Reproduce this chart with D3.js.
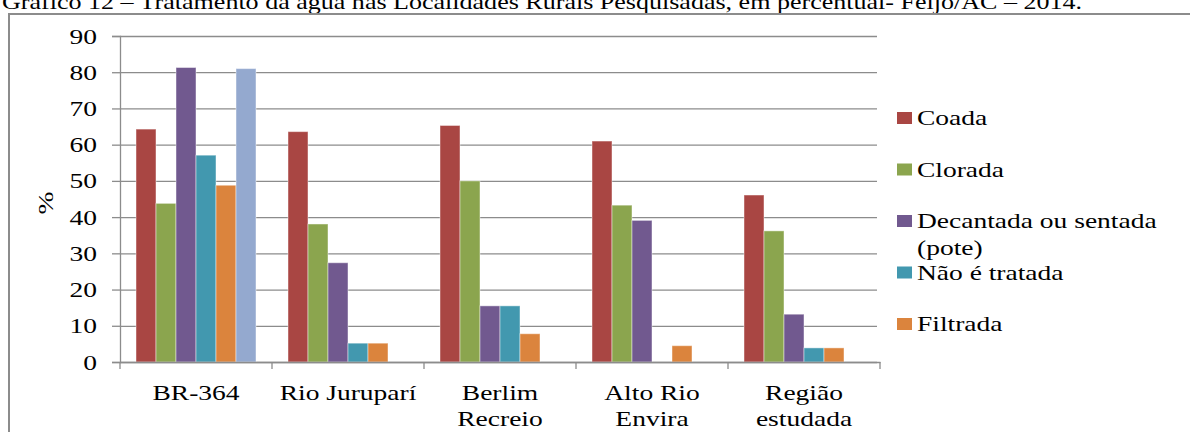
<!DOCTYPE html>
<html>
<head>
<meta charset="utf-8">
<style>
  body { margin: 0; background: #fff; }
  text { font-family: "Liberation Serif", "Times New Roman", serif; fill: #000; }
</style>
</head>
<body>
<div id="chart"></div>
<script src="https://d3js.org/d3.v7.min.js"></script>
<script>
  // data
  const categories = ["BR-364", "Rio Juruparí", "Berlim Recreio", "Alto Rio Envira", "Região estudada"];
  const categoryLines = [["BR-364"], ["Rio Juruparí"], ["Berlim", "Recreio"], ["Alto Rio", "Envira"], ["Região", "estudada"]];
  const seriesNames = ["Coada", "Clorada", "Decantada ou sentada (pote)", "Não é tratada", "Filtrada", ""];
  const coada = [64.3, 63.6, 65.3, 61.0, 46.1];
  const clorada = [43.8, 38.1, 50.0, 43.3, 36.2];
  const decantada = [81.3, 27.4, 15.5, 39.1, 13.2];
  const naoTratada = [57.1, 5.2, 15.5, 0, 3.9];
  const filtrada = [48.8, 5.2, 7.8, 4.5, 3.9];
  const sexta = [81.0, 0, 0, 0, 0];
  const yTicks = [0, 10, 20, 30, 40, 50, 60, 70, 80, 90];
  const colors = ["#A94643", "#8BA54E", "#71598F", "#4298AF", "#DB843D", "#94A9CF"];
  const title = "Gráfico 12 – Tratamento da água nas Localidades Rurais Pesquisadas, em percentual- Feijó/AC – 2014.";

  const seriesValues = [coada, clorada, decantada, naoTratada, filtrada, sexta];
  const series = seriesNames.map((name, i) => ({ name: name, key: "s" + i, color: colors[i], values: seriesValues[i] }));

  const W = 1190, H = 432;
  const plot = { left: 120, right: 880, top: 36, bottom: 362 };
  const sx = 1.25; // text in the source is stretched horizontally

  const svg = d3.select("#chart").append("svg")
    .attr("width", W)
    .attr("height", H);

  // title, cut off by the top of the picture
  svg.append("text")
    .attr("x", 2)
    .attr("y", 9)
    .attr("textLength", 1080)
    .attr("lengthAdjust", "spacingAndGlyphs")
    .style("font-size", "22px")
    .text(title);

  // outer frame
  svg.append("rect")
    .attr("x", 9).attr("y", 14)
    .attr("width", W).attr("height", H)
    .attr("fill", "none")
    .attr("stroke", "#8c8c8c")
    .attr("stroke-width", 2);

  const x0 = d3.scaleBand().domain(categories).range([plot.left, plot.right]);
  const x1 = d3.scaleBand().domain(series.map(d => d.key)).range([16, x0.bandwidth() - 16]);
  const y = d3.scaleLinear().domain([0, 90]).range([plot.bottom, plot.top]);

  // gridlines
  svg.append("g")
    .attr("transform", "translate(" + plot.left + ",0)")
    .call(d3.axisLeft(y).tickValues(yTicks).tickSize(-(plot.right - plot.left - 3)).tickFormat(""))
    .call(g => g.select(".domain").remove())
    .call(g => g.selectAll("line").attr("stroke", "#8c8c8c").attr("stroke-width", 1.3));

  // y axis
  const yAxis = svg.append("g")
    .attr("transform", "translate(" + plot.left + ",0)")
    .call(d3.axisLeft(y).tickValues(yTicks).tickSize(8).tickPadding(0));
  yAxis.select(".domain").attr("stroke", "#8c8c8c").attr("stroke-width", 1.3);
  yAxis.selectAll(".tick line").attr("stroke", "#8c8c8c").attr("stroke-width", 1.3);
  yAxis.selectAll(".tick text")
    .attr("x", -23 / sx)
    .attr("transform", "scale(" + sx + ",1)")
    .style("font-size", "22px")
    .style("font-family", "Liberation Serif");

  // bars
  const groups = svg.append("g").selectAll("g")
    .data(categories)
    .join("g")
    .attr("transform", d => "translate(" + x0(d) + ",0)");

  groups.selectAll("rect")
    .data((d, i) => series.map(s => ({ key: s.key, color: s.color, value: s.values[i] })))
    .join("rect")
    .attr("x", d => x1(d.key))
    .attr("width", x1.bandwidth())
    .attr("y", d => y(d.value))
    .attr("height", d => y(0) - y(d.value))
    .attr("fill", d => d.color)
    .attr("stroke", "rgba(255,255,255,0.45)")
    .attr("stroke-width", 1);

  // x axis
  const xAxis = svg.append("g")
    .attr("transform", "translate(0," + plot.bottom + ")")
    .call(d3.axisBottom(x0).tickSize(0).tickFormat(""));
  xAxis.select(".domain").attr("stroke", "#8c8c8c").attr("stroke-width", 1.3);

  // category boundary tick marks
  const bounds = categories.map(c => x0(c)).concat([plot.right]);
  xAxis.selectAll(".bound")
    .data(bounds)
    .join("line")
    .attr("x1", d => d).attr("x2", d => d)
    .attr("y1", 0).attr("y2", 7)
    .attr("stroke", "#8c8c8c")
    .attr("stroke-width", 1.3);

  // category labels
  xAxis.selectAll(".tick").each(function (d, i) {
    const t = d3.select(this).select("text")
      .attr("y", 0).attr("dy", null)
      .attr("transform", "scale(" + sx + ",1)")
      .style("font-size", "22px")
      .style("font-family", "Liberation Serif");
    t.selectAll("tspan")
      .data(categoryLines[i])
      .join("tspan")
      .attr("x", 0)
      .attr("y", (l, j) => 38 + j * 26)
      .text(l => l);
  });

  // y title
  svg.append("text")
    .attr("transform", "translate(53,203) rotate(-90) scale(" + sx + ",1)")
    .attr("text-anchor", "middle")
    .style("font-size", "22px")
    .text("%");

  // legend
  const legendItems = series.filter(s => s.name !== "");
  const legend = svg.append("g").attr("transform", "translate(897,0)");
  const item = legend.selectAll("g")
    .data(legendItems)
    .join("g")
    .attr("transform", (d, i) => "translate(0," + (125 + i * 51.5) + ")");
  item.append("rect")
    .attr("x", 0).attr("y", -13)
    .attr("width", 15).attr("height", 12)
    .attr("fill", d => d.color);
  item.append("text")
    .attr("transform", "translate(20,0) scale(" + sx + ",1)")
    .style("font-size", "22px")
    .each(function (d) {
      const lines = d.name === "Decantada ou sentada (pote)" ? ["Decantada ou sentada", "(pote)"] : [d.name];
      d3.select(this).selectAll("tspan")
        .data(lines)
        .join("tspan")
        .attr("x", 0)
        .attr("y", (l, j) => j * 27)
        .text(l => l);
    });
</script>
</body>
</html>
